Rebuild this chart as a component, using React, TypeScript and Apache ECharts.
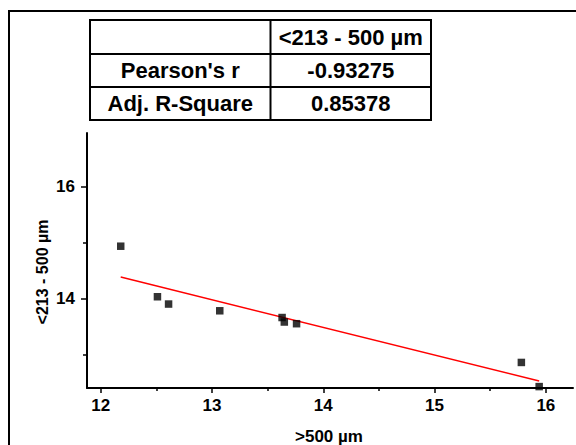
import React, { useEffect, useRef } from "react";
import * as echarts from "echarts";

// ---- data ----
const xValues = [12.18, 12.51, 12.61, 13.07, 13.63, 13.65, 13.76, 15.78, 15.94];
const yValues = [14.94, 14.04, 13.91, 13.79, 13.67, 13.59, 13.56, 12.87, 12.44];
const fitX = [12.18, 15.94];
const fitY = [14.39, 12.54];
const xTicks = [12, 13, 14, 15, 16];
const xMinorTicks = [12.5, 13.5, 14.5, 15.5];
const yTicks = [14, 16];
const yMinorTicks = [13, 15];
const xTitle = ">500 µm";
const yTitle = "<213 - 500 µm";
const tableHeader = ["", "<213 - 500 µm"];
const tableRows = [
  ["Pearson's r", "-0.93275"],
  ["Adj. R-Square", "0.85378"],
];

const FONT = "'Liberation Sans', Arial, sans-serif";

export default function App() {
  const ref = useRef<HTMLDivElement>(null);

  useEffect(() => {
    if (!ref.current) return;
    const chart = echarts.init(ref.current, null, { renderer: "svg" });

    const xMin = 11.877, xMax = 16.244;
    const yMin = 12.415, yMax = 16.956;

    // table geometry
    const tX = [90, 270.5, 431];
    const tY = [20, 54, 87, 120];
    const allRows = [tableHeader, ...tableRows];
    const tableGraphics: any[] = [];
    tableGraphics.push({
      type: "rect",
      shape: { x: tX[0], y: tY[0], width: tX[2] - tX[0], height: tY[3] - tY[0] },
      style: { fill: "#fff", stroke: "#000", lineWidth: 2 },
    });
    [tY[1], tY[2]].forEach((y) =>
      tableGraphics.push({
        type: "line",
        shape: { x1: tX[0], y1: y, x2: tX[2], y2: y },
        style: { stroke: "#000", lineWidth: 2 },
      })
    );
    tableGraphics.push({
      type: "line",
      shape: { x1: tX[1], y1: tY[0], x2: tX[1], y2: tY[3] },
      style: { stroke: "#000", lineWidth: 2 },
    });
    allRows.forEach((row, r) => {
      row.forEach((cell, c) => {
        if (!cell) return;
        tableGraphics.push({
          type: "text",
          x: (tX[c] + tX[c + 1]) / 2,
          y: (tY[r] + tY[r + 1]) / 2,
          style: {
            text: cell,
            fill: "#000",
            font: `bold 22px ${FONT}`,
            align: "center",
            verticalAlign: "middle",
          },
        });
      });
    });

    const labelStyle = {
      color: "#000",
      fontSize: 17,
      fontWeight: "bold" as const,
      fontFamily: FONT,
    };

    chart.setOption({
      animation: false,
      backgroundColor: "#fff",
      grid: { left: 87, right: 3, top: 133, bottom: 57, containLabel: false },
      xAxis: [
        {
          type: "value",
          min: xMin,
          max: xMax,
          position: "bottom",
          axisLine: { show: true, onZero: false, lineStyle: { color: "#000", width: 2 } },
          axisTick: { show: true, customValues: xTicks, length: 5, lineStyle: { color: "#000", width: 1.5 } },
          axisLabel: { ...labelStyle, customValues: xTicks, margin: 9 },
          splitLine: { show: false },
        },
        {
          type: "value",
          min: xMin,
          max: xMax,
          position: "bottom",
          axisLine: { show: false, onZero: false },
          axisTick: { show: true, customValues: xMinorTicks, length: 3, lineStyle: { color: "#000", width: 1.5 } },
          axisLabel: { show: false },
          splitLine: { show: false },
        },
      ],
      yAxis: [
        {
          type: "value",
          min: yMin,
          max: yMax,
          position: "left",
          axisLine: { show: true, onZero: false, lineStyle: { color: "#000", width: 2 } },
          axisTick: { show: true, customValues: yTicks, length: 6, lineStyle: { color: "#000", width: 1.5 } },
          axisLabel: { ...labelStyle, customValues: yTicks, margin: 12 },
          splitLine: { show: false },
        },
        {
          type: "value",
          min: yMin,
          max: yMax,
          position: "left",
          axisLine: { show: false, onZero: false },
          axisTick: { show: true, customValues: yMinorTicks, length: 4, lineStyle: { color: "#000", width: 1.5 } },
          axisLabel: { show: false },
          splitLine: { show: false },
        },
      ],
      series: [
        {
          type: "line",
          xAxisIndex: 0,
          yAxisIndex: 0,
          data: fitX.map((x, i) => [x, fitY[i]]),
          symbol: "none",
          lineStyle: { color: "#ff0000", width: 1.5 },
          z: 2,
        },
        {
          type: "scatter",
          xAxisIndex: 0,
          yAxisIndex: 0,
          data: xValues.map((x, i) => [x, yValues[i]]),
          symbol: "rect",
          symbolSize: 7.5,
          itemStyle: { color: "#000" },
          clip: false,
          z: 3,
        },
      ],
      graphic: [
        {
          type: "rect",
          shape: { x: 9, y: 11, width: 700, height: 600 },
          style: { fill: "none", stroke: "#000", lineWidth: 2 },
          z: -1,
        },
        ...tableGraphics,
        {
          type: "text",
          x: 329,
          y: 436,
          style: {
            text: xTitle,
            fill: "#000",
            font: `bold 17px ${FONT}`,
            align: "center",
            verticalAlign: "middle",
          },
        },
        {
          type: "text",
          x: 42,
          y: 272,
          rotation: Math.PI / 2,
          style: {
            text: yTitle,
            fill: "#000",
            font: `bold 16px ${FONT}`,
            align: "center",
            verticalAlign: "middle",
          },
        },
      ],
    });

    return () => chart.dispose();
  }, []);

  return (
    <div
      ref={ref}
      style={{ position: "absolute", left: 0, top: 0, width: 576, height: 445, overflow: "hidden" }}
    />
  );
}
